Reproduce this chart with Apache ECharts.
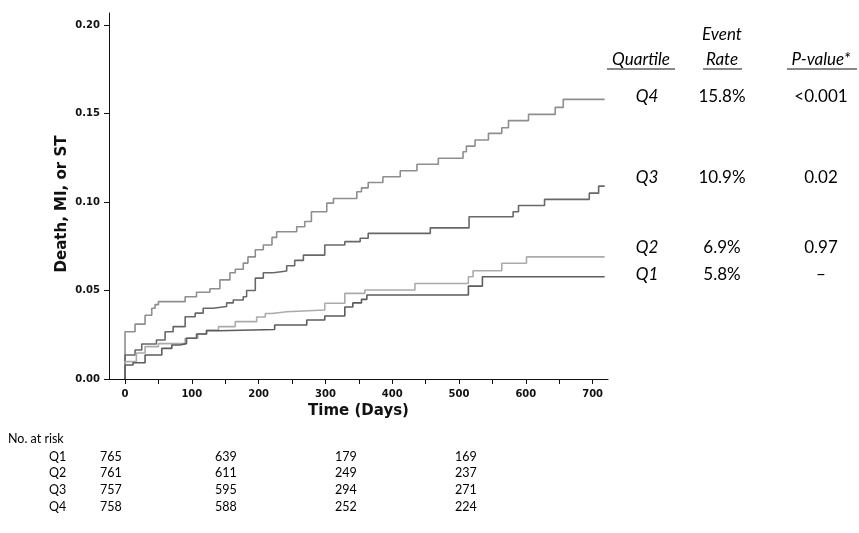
<!DOCTYPE html>
<html>
<head>
<meta charset="utf-8">
<script src="https://cdn.jsdelivr.net/npm/echarts@6/dist/echarts.min.js"></script>
<style>
html,body{margin:0;padding:0;background:#fff;}
#chart{width:859px;height:533px;}
</style>
</head>
<body>
<div id="chart"></div>
<script>
// ---- Data ----
const q1Curve = [[0,0],[0,0.0079],[12,0.0092],[30,0.0136],[55,0.0173],[70,0.0192],[82,0.020],[92,0.023],[107,0.0254],[122,0.0273],[140,0.028],[224,0.0305],[272,0.0333],[299,0.0356],[329,0.0407],[341,0.043],[354,0.045],[362,0.0475],[514,0.0525],[535,0.0578],[718,0.0578]];
const q2Curve = [[0,0],[0,0.0098],[17,0.0147],[30,0.0183],[50,0.020],[90,0.023],[109,0.0254],[122,0.0277],[140,0.0296],[165,0.0324],[197,0.035],[210,0.037],[220,0.038],[242,0.039],[299,0.0428],[329,0.0484],[359,0.0503],[434,0.054],[514,0.0578],[521,0.0612],[564,0.0654],[601,0.069],[718,0.069]];
const q3Curve = [[0,0],[0,0.0136],[15,0.0164],[25,0.0198],[47,0.022],[60,0.0267],[72,0.0296],[90,0.0352],[105,0.0372],[117,0.040],[132,0.041],[152,0.043],[162,0.0446],[177,0.0465],[182,0.050],[195,0.057],[207,0.060],[222,0.061],[242,0.064],[254,0.067],[267,0.070],[299,0.0757],[329,0.0776],[352,0.0795],[364,0.0823],[457,0.0854],[515,0.0917],[581,0.0945],[589,0.098],[628,0.1015],[695,0.105],[709,0.109],[718,0.109]];
const q4Curve = [[0,0],[0,0.0267],[15,0.031],[30,0.036],[40,0.040],[45,0.042],[50,0.0437],[90,0.0465],[107,0.049],[127,0.051],[142,0.056],[157,0.060],[165,0.062],[177,0.0655],[184,0.069],[195,0.073],[207,0.0757],[220,0.080],[227,0.0832],[257,0.086],[269,0.089],[279,0.0945],[302,0.0994],[312,0.102],[347,0.1058],[354,0.108],[364,0.111],[386,0.1143],[412,0.1177],[437,0.1213],[469,0.1247],[506,0.1284],[511,0.1316],[524,0.135],[544,0.1388],[564,0.142],[574,0.146],[604,0.1495],[644,0.1535],[656,0.158],[718,0.158]];

const xTickValues = [0,50,100,150,200,250,300,350,400,450,500,550,600,650,700];
const xLabelValues = [0,100,200,300,400,500,600,700];
const yTickValues = [0,0.05,0.10,0.15,0.20];

const quartiles = ['Q4','Q3','Q2','Q1'];
const eventRates = ['15.8%','10.9%','6.9%','5.8%'];
const pValues = ['<0.001','0.02','0.97','–'];

const riskGroups = ['Q1','Q2','Q3','Q4'];
const riskQ1 = [765,639,179,169];
const riskQ2 = [761,611,249,237];
const riskQ3 = [757,595,294,271];
const riskQ4 = [758,588,252,224];

// ---- Layout / style ----
const tableFont = 'Lato, "Open Sans", sans-serif';
const axisFamily = '"DejaVu Sans", Verdana, sans-serif';
const rowY = [97,178,248,275];
const colQ = 647, colRate = 722, colP = 821;
const riskRows = [riskQ1,riskQ2,riskQ3,riskQ4];
const riskRowY = [457,473,490,507];
const riskColX = [100,215,335,455];

const graphics = [];
function txt(t,x,y,opts){
  opts = opts||{};
  graphics.push({type:'text', z:10, rotation:opts.rotation||0, x:x, y:y, style:{
    text:t, x:0, y:0, fill:opts.fill||'#000',
    font:opts.font||((opts.italic?'italic ':'')+(opts.size||17)+'px '+tableFont),
    align:opts.align||'center', verticalAlign:'middle',
    textAlign:opts.align||'center', textVerticalAlign:'middle'
  }});
}
function uline(x1,x2,y){
  graphics.push({type:'line', z:10, shape:{x1:x1,y1:y,x2:x2,y2:y}, style:{stroke:'#111',lineWidth:1}});
}
// y-axis title
txt('Death, MI, or ST', 62, 204, {rotation:Math.PI/2, font:'bold 15px '+axisFamily, fill:'#111'});
// headers
txt('Event', colRate, 35, {italic:true});
txt('Quartile', 641, 60, {italic:true});
txt('Rate', colRate, 60, {italic:true});
txt('P-value*', colP, 60, {italic:true});
uline(607,675,69); uline(703,742,69); uline(787,857,69);
quartiles.forEach((q,i)=>{
  txt(q, colQ, rowY[i], {italic:true});
  txt(eventRates[i], colRate, rowY[i]);
  txt(pValues[i], colP, rowY[i]);
});
// risk table
txt('No. at risk', 8, 439, {align:'left', size:12.5});
riskGroups.forEach((g,i)=>{
  txt(g, 49, riskRowY[i], {align:'left', size:12.5});
  riskRows[i].forEach((v,j)=>{
    txt(String(v), riskColX[j], riskRowY[i], {align:'left', size:12.5});
  });
});

const axisFont = {fontFamily:axisFamily, fontWeight:'bold', fontSize:10, color:'#111'};

function mk(name, data, color){
  return {name:name, type:'line', step:'end', data:data, showSymbol:false, symbol:'none',
    lineStyle:{color:color, width:1.6}, itemStyle:{color:color}, animation:false, silent:true};
}

const chart = echarts.init(document.getElementById('chart'), null, {renderer:'canvas'});
chart.setOption({
  animation:false,
  backgroundColor:'#fff',
  grid:{left:109, right:251, top:13, bottom:154, containLabel:false},
  xAxis:{
    type:'value', min:-24, max:723,
    name:'Time (Days)', nameLocation:'middle', nameGap:24,
    nameTextStyle:{fontFamily:axisFamily, fontWeight:'bold', fontSize:15, color:'#111'},
    axisLine:{show:true, onZero:false, lineStyle:{color:'#111', width:1}},
    axisTick:{show:true, length:5, customValues:xTickValues, lineStyle:{color:'#111'}},
    axisLabel:Object.assign({customValues:xLabelValues, margin:10}, axisFont),
    splitLine:{show:false}
  },
  yAxis:{
    type:'value', min:0, max:0.2068,
    axisLine:{show:true, onZero:false, lineStyle:{color:'#111', width:1}},
    axisTick:{show:true, length:5, customValues:yTickValues, lineStyle:{color:'#111'}},
    axisLabel:Object.assign({customValues:yTickValues, margin:9, formatter:v=>v.toFixed(2)}, axisFont),
    splitLine:{show:false}
  },
  series:[
    mk('Q4', q4Curve, '#8e8e8e'),
    mk('Q3', q3Curve, '#686868'),
    mk('Q2', q2Curve, '#ababab'),
    mk('Q1', q1Curve, '#5c5c5c')
  ],
  graphic:graphics
});
</script>
</body>
</html>
